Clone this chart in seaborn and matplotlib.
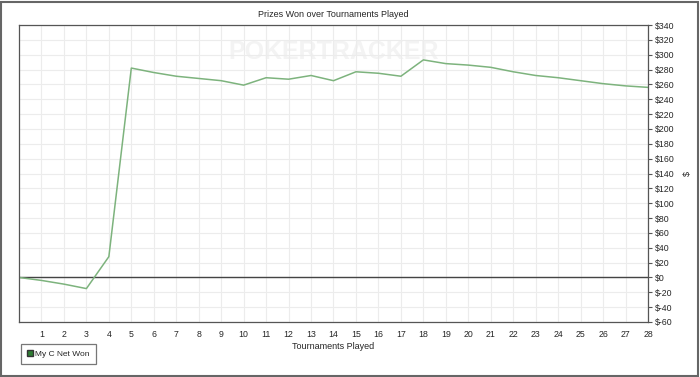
import matplotlib
matplotlib.use("Agg")
import matplotlib.pyplot as plt
import seaborn as sns
import pandas as pd
from matplotlib.patches import Rectangle
from matplotlib.lines import Line2D

tournaments = list(range(0, 29))
net_won = [0, -4, -9, -15, 28, 282, 276, 271, 268, 265, 259, 269, 267, 272, 265,
           277, 275, 271, 293, 288, 286, 283, 277, 272, 269, 265, 261, 258, 256]
y_ticks = list(range(-60, 341, 20))
x_ticks = list(range(1, 29))
series_name = "My C Net Won"

df = pd.DataFrame({"Tournaments Played": tournaments, "Net": net_won})

sns.set_style("white")
plt.rcParams['font.family'] = ['Liberation Sans', 'DejaVu Sans']

fig = plt.figure(figsize=(7, 3.77), dpi=100)
ax = fig.add_axes([19/700, 55/377, 629/700, 297/377])

sns.lineplot(data=df, x="Tournaments Played", y="Net", ax=ax, color="#7db37d", linewidth=1.1)
ax.axhline(0, color="#444444", linewidth=1.0, zorder=1)

ax.set_xlim(0, 28)
ax.set_ylim(-60, 340)
ax.set_xticks(x_ticks)
ax.set_yticks(y_ticks)
ax.set_yticklabels([f"${v}" for v in y_ticks])
ax.yaxis.tick_right()
ax.yaxis.set_label_position("right")
ax.tick_params(axis='both', labelsize=6.3, length=3, width=0.8, color="#555555", direction='out', pad=2)
ax.tick_params(axis='x', pad=3)
ax.grid(True, color="#ececec", linewidth=0.8)
ax.set_axisbelow(True)
for s in ax.spines.values():
    s.set_color("#555555")
    s.set_linewidth(0.9)

ax.set_xlabel("Tournaments Played", fontsize=6.5, labelpad=2)
ax.set_ylabel("$", fontsize=6.5, rotation=90, labelpad=6)
ax.set_title("Prizes Won over Tournaments Played", fontsize=6.5, pad=6)

ax.text(0.5, 0.91, "POKERTRACKER", transform=ax.transAxes, ha="center", va="center",
        fontsize=18, color="#f3f3f3", fontweight="bold", zorder=0)

leg = fig.legend(handles=[Line2D([], [], marker="s", linestyle="none", markersize=4.5,
                                 markerfacecolor="#2e7d32", markeredgecolor="#333333",
                                 label=series_name)],
                 loc="lower left", bbox_to_anchor=(17/700, 9/377), fontsize=6,
                 frameon=True, fancybox=False, handletextpad=0.2, borderpad=0.7,
                 handlelength=0.8)
leg.get_frame().set_edgecolor("#555555")
leg.get_frame().set_linewidth(0.9)

fig.patches.append(Rectangle((0.002, 0.003), 0.995, 0.993, transform=fig.transFigure,
                             fill=False, edgecolor="#666666", linewidth=1.5))

fig.savefig("out.png", dpi=100)
